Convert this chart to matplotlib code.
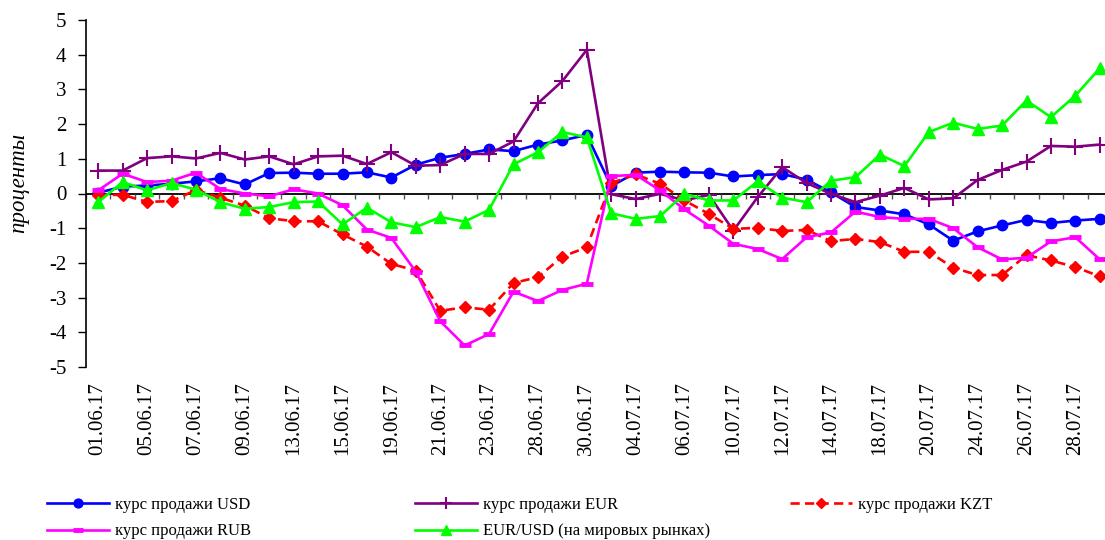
import numpy as np
import matplotlib
matplotlib.use("Agg")
import matplotlib.pyplot as plt

plt.rcParams['font.family'] = ['Liberation Serif', 'DejaVu Serif']

dates = ["01.06.17", "02.06.17", "05.06.17", "06.06.17", "07.06.17", "08.06.17",
         "09.06.17", "12.06.17", "13.06.17", "14.06.17", "15.06.17", "16.06.17",
         "19.06.17", "20.06.17", "21.06.17", "22.06.17", "23.06.17", "26.06.17",
         "28.06.17", "29.06.17", "30.06.17", "03.07.17", "04.07.17", "05.07.17",
         "06.07.17", "07.07.17", "10.07.17", "11.07.17", "12.07.17", "13.07.17",
         "14.07.17", "17.07.17", "18.07.17", "19.07.17", "20.07.17", "21.07.17",
         "24.07.17", "25.07.17", "26.07.17", "27.07.17", "28.07.17", "31.07.17"]

usd = [0.02, 0.20, 0.23, 0.28, 0.35, 0.44, 0.26, 0.59, 0.60, 0.57, 0.57, 0.61,
       0.46, 0.83, 1.03, 1.14, 1.27, 1.22, 1.41, 1.53, 1.69, 0.21, 0.60, 0.63,
       0.61, 0.60, 0.49, 0.53, 0.56, 0.40, 0.03, -0.39, -0.49, -0.60, -0.89, -1.36,
       -1.09, -0.92, -0.76, -0.85, -0.78, -0.73]

eur = [0.66, 0.66, 1.02, 1.07, 1.01, 1.17, 0.98, 1.07, 0.84, 1.07, 1.09, 0.85,
       1.19, 0.80, 0.82, 1.14, 1.14, 1.50, 2.60, 3.24, 4.14, -0.02, -0.16, -0.01,
       -0.20, -0.04, -1.07, -0.10, 0.76, 0.30, -0.01, -0.25, -0.06, 0.16, -0.17, -0.14,
       0.39, 0.68, 0.92, 1.37, 1.35, 1.41]

kzt = [-0.04, -0.04, -0.24, -0.22, 0.10, -0.12, -0.35, -0.71, -0.80, -0.80, -1.18, -1.53,
       -2.03, -2.22, -3.38, -3.28, -3.35, -2.58, -2.41, -1.82, -1.55, 0.30, 0.55, 0.28,
       -0.20, -0.59, -1.02, -0.99, -1.08, -1.05, -1.37, -1.31, -1.40, -1.68, -1.68, -2.14,
       -2.35, -2.35, -1.78, -1.93, -2.12, -2.39]

rub = [0.09, 0.57, 0.33, 0.37, 0.60, 0.13, 0.00, -0.08, 0.12, 0.00, -0.34, -1.04,
       -1.28, -2.25, -3.68, -4.38, -4.05, -2.83, -3.10, -2.78, -2.60, 0.50, 0.54, 0.09,
       -0.46, -0.93, -1.45, -1.60, -1.89, -1.26, -1.12, -0.52, -0.68, -0.73, -0.73, -1.00,
       -1.55, -1.90, -1.85, -1.38, -1.26, -1.90]

eurusd = [-0.25, 0.33, 0.09, 0.30, 0.11, -0.25, -0.44, -0.39, -0.25, -0.23, -0.89, -0.41,
          -0.83, -0.97, -0.68, -0.81, -0.47, 0.84, 1.19, 1.77, 1.62, -0.57, -0.73, -0.65,
          -0.01, -0.20, -0.20, 0.35, -0.12, -0.25, 0.37, 0.47, 1.12, 0.79, 1.77, 2.04,
          1.86, 1.96, 2.68, 2.20, 2.82, 3.61]

labels = ["курс продажи USD", "курс продажи EUR", "курс продажи KZT",
          "курс продажи RUB", "EUR/USD (на мировых рынках)"]
ylabel = "проценты"
yticks = [-5, -4, -3, -2, -1, 0, 1, 2, 3, 4, 5]

W, H = 1105, 540
fig = plt.figure(figsize=(W / 100, H / 100), dpi=100)
left_px, right_px, top_px, bot_px = 86, 1112, 20, 367
ax = fig.add_axes([left_px / W, 1 - bot_px / H, (right_px - left_px) / W, (bot_px - top_px) / H])

x = np.arange(len(dates))
lw = 1.9
l_usd, = ax.plot(x, usd, color='#0000FF', lw=lw, marker='o', ms=7.5, label=labels[0], zorder=3)
l_eur, = ax.plot(x, eur, color='#800080', lw=lw, marker='+', ms=11, mew=1.5, label=labels[1], zorder=3)
l_kzt, = ax.plot(x, kzt, color='#FF0000', lw=lw, ls=(0, (3.5, 2)), marker='D', ms=6, label=labels[2], zorder=3)
l_rub, = ax.plot(x, rub, color='#FF00FF', lw=lw, marker='_', ms=8, mew=3.5, label=labels[3], zorder=3)
l_eu, = ax.plot(x, eurusd, color='#00FF00', lw=lw, marker='^', ms=9, label=labels[4], zorder=3)

ax.set_xlim(-0.5, len(dates) - 0.5)
ax.set_ylim(-5, 5)
ax.set_yticks(yticks)
ax.set_yticklabels([str(v) for v in yticks], fontsize=15)
ax.tick_params(axis='y', direction='out', length=6, width=1, pad=8)

ax.set_xticks(x[::2])
ax.set_xticklabels(dates[::2], rotation=90, fontsize=15)
ax.tick_params(axis='x', length=0, pad=11)

for s in ['top', 'right', 'bottom']:
    ax.spines[s].set_visible(False)
ax.spines['left'].set_linewidth(1.2)

# zero line with category boundary tick marks
ax.axhline(0, color='black', lw=1.3, zorder=2)
bounds = np.arange(-0.5, len(dates), 1.0)
ax.vlines(bounds, -0.16, 0, color='#555555', lw=1.0, zorder=2)

fig.text(19 / W, 1 - 183 / H, ylabel, rotation=90, style='italic', fontsize=16.5,
         ha='center', va='center')

cols = [([l_usd, l_rub], [labels[0], labels[3]], 47),
        ([l_eur, l_eu], [labels[1], labels[4]], 415),
        ([l_kzt], [labels[2]], 790)]
for hs, ls_, xp in cols:
    fig.legend(hs, ls_, loc='upper left', bbox_to_anchor=(xp / W, 1 - 497 / H),
               frameon=False, fontsize=12, handlelength=3.7, handletextpad=0.4,
               borderpad=0, borderaxespad=0, labelspacing=0.62, numpoints=1,
               markerscale=0.85)

fig.savefig("out.png", dpi=100)
